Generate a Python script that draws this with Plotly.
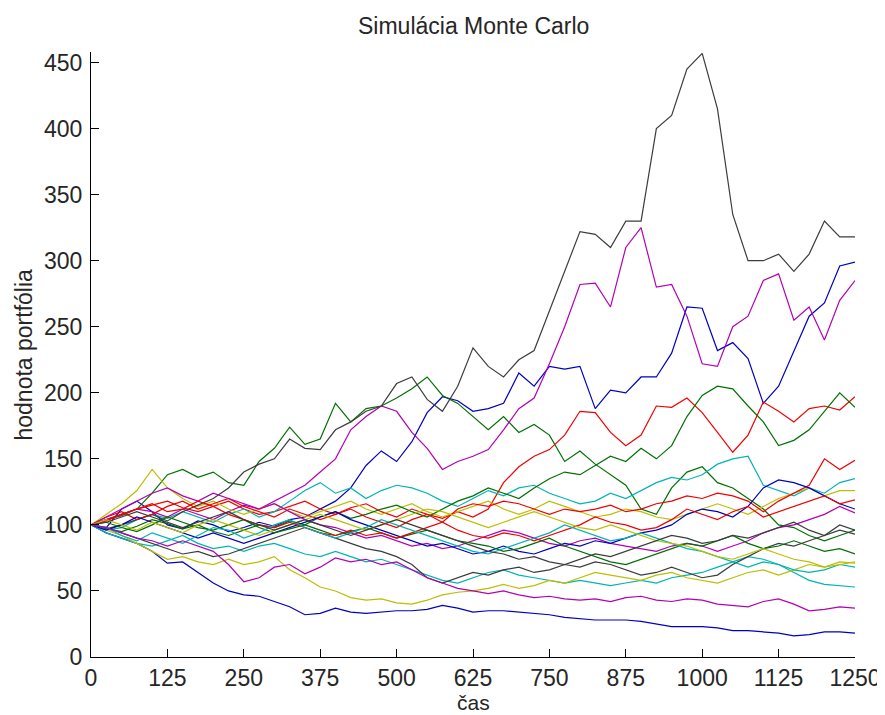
import plotly.graph_objects as go

# time grid (sampled every 25 steps)
t = list(range(0, 1251, 25))

# portfolio paths (MATLAB colour-order cycle)
B1 = [100,98,112,118,110,100,97,103,100,95,98,102,99,104,106,112,118,128,145,156,148,163,185,197,194,186,188,192,215,205,220,218,220,188,202,200,212,212,230,265,264,232,238,226,192,205,232,258,268,296,299]
G1 = [100,104,107,112,124,138,142,136,140,132,130,148,158,174,161,165,192,178,188,190,196,203,212,198,192,182,172,182,170,176,168,148,156,146,138,130,112,108,128,140,144,132,128,120,112,100,98,92,88,92,96]
R1 = [100,103,108,112,115,118,113,110,114,118,112,108,110,114,118,112,108,113,116,110,106,112,108,105,110,106,112,132,144,152,157,168,186,185,170,160,168,190,189,196,185,170,155,168,193,186,178,188,190,187,197]
C1 = [100,96,98,104,108,105,110,106,102,108,112,106,110,118,126,132,124,128,120,126,130,128,124,118,114,120,126,122,128,130,124,120,116,118,124,120,126,132,136,134,138,146,150,152,130,126,122,128,124,132,135]
M1 = [100,104,108,112,110,106,112,108,104,110,115,112,118,124,130,140,150,172,182,190,186,170,158,142,148,152,157,172,188,196,222,250,282,283,265,310,325,280,282,258,222,220,250,258,285,290,255,265,240,270,285]
Y1 = [100,108,116,126,142,128,120,114,118,112,108,112,116,110,106,110,114,118,112,108,112,116,110,106,110,114,118,112,108,112,118,114,110,106,108,112,110,106,104,108,112,116,112,108,114,120,124,128,122,126,126]
K1 = [100,97,100,104,108,103,110,115,120,128,140,146,150,165,158,157,172,178,186,190,207,212,195,186,205,234,220,212,225,232,262,292,322,320,310,330,330,400,410,445,457,415,335,300,300,305,292,305,330,318,318]
B2 = [100,94,90,86,80,71,72,64,56,50,47,46,42,38,32,33,37,34,33,34,35,35,36,39,37,34,35,35,34,33,32,30,29,28,28,28,27,25,23,23,23,22,20,20,19,18,16,17,19,19,18]
G2 = [100,97,95,99,104,101,97,100,95,92,96,100,98,103,100,106,110,105,108,112,115,110,106,112,118,122,128,124,120,128,135,140,138,145,152,148,158,150,160,182,198,205,203,190,178,160,164,172,186,200,189]
R2 = [100,106,110,104,108,114,118,112,116,120,114,110,106,112,108,104,108,112,106,102,98,104,108,102,112,116,114,118,116,112,108,112,110,112,115,110,112,116,118,122,120,124,122,118,110,118,124,130,150,142,149]
C2 = [100,94,90,86,84,88,92,86,82,84,80,84,86,82,78,76,80,76,72,74,70,66,62,58,56,60,64,66,62,60,58,56,58,56,54,56,58,56,60,62,64,68,72,76,74,70,64,58,55,54,53]
M2 = [100,106,112,118,124,128,122,118,124,120,116,112,116,110,104,100,98,94,90,92,88,84,86,82,84,88,92,96,94,90,86,84,88,90,86,84,82,80,84,86,84,80,84,88,94,98,100,104,108,114,109]
Y2 = [100,96,92,86,80,74,76,72,70,74,70,72,76,66,60,53,50,45,43,44,41,40,43,47,49,50,52,55,52,54,58,56,60,64,62,60,58,62,64,60,58,56,60,64,66,62,66,70,68,72,71]
K2 = [100,98,94,90,86,82,78,80,76,78,82,86,90,94,98,94,90,86,82,80,76,70,60,56,60,64,62,66,68,64,66,70,68,72,70,66,62,64,68,64,60,62,70,76,82,86,84,88,92,96,93]
B3 = [100,96,100,106,102,98,94,90,94,90,86,90,94,98,102,106,110,104,100,96,92,88,84,86,82,78,80,84,80,78,82,86,84,88,86,90,94,96,100,108,112,110,106,114,128,134,132,128,122,116,112]
G3 = [100,102,98,95,100,106,102,98,96,100,104,98,94,97,100,96,92,95,98,94,90,93,96,92,88,86,84,80,82,86,90,84,80,76,72,70,74,78,82,86,84,88,92,86,82,84,88,84,80,82,78]
R3 = [100,104,108,112,116,110,112,118,114,108,104,100,98,102,98,94,92,96,92,94,90,94,98,102,96,92,90,94,92,88,92,96,100,106,102,100,96,98,104,112,108,104,110,114,106,110,114,118,122,116,119]
C3 = [100,98,92,88,94,90,86,92,98,96,90,94,100,104,98,94,90,94,98,104,100,96,92,88,84,80,78,82,86,90,94,100,96,92,88,90,94,90,86,82,80,76,72,68,72,70,66,64,66,70,68]
M3 = [100,98,94,90,88,84,88,84,80,70,57,60,68,70,63,68,75,72,74,70,72,66,60,56,52,50,48,50,47,45,46,44,43,44,42,45,46,43,42,44,43,40,39,38,42,44,40,35,36,38,37]
Y3 = [100,104,100,96,102,98,94,100,104,100,96,92,96,100,104,108,104,100,96,100,104,108,112,110,106,102,98,102,106,110,106,102,98,96,100,96,92,88,86,84,80,76,74,78,82,78,74,72,68,70,72]
K3 = [100,102,106,110,106,102,98,102,106,110,104,100,96,100,104,100,96,92,96,100,104,100,96,92,88,84,80,78,74,76,72,70,74,78,76,80,84,88,92,90,86,88,92,90,94,98,102,96,92,100,96]

series = [B1, G1, R1, C1, M1, Y1, K1,
          B2, G2, R2, C2, M2, Y2, K2,
          B3, G3, R3, C3, M3, Y3, K3]

color_order = ["#0000C0", "#007000", "#F00000", "#00B4B4", "#B400B4", "#BEBE00", "#3C3C3C"]

x_ticks = [0, 125, 250, 375, 500, 625, 750, 875, 1000, 1125, 1250]
y_ticks = [0, 50, 100, 150, 200, 250, 300, 350, 400, 450]

title_text = "Simulácia Monte Carlo"
x_label = "čas"
y_label = "hodnota portfólia"

FONT = "Liberation Sans, Arial, Helvetica, sans-serif"
TEXT_COLOR = "#262626"

fig = go.Figure()
for i, s in enumerate(series):
    fig.add_trace(go.Scatter(x=t, y=s, mode="lines",
                             line=dict(color=color_order[i % 7], width=1.2),
                             showlegend=False, hoverinfo="skip"))

axis_common = dict(showgrid=False, zeroline=False, showline=True, linecolor="black",
                   linewidth=1, ticks="inside", ticklen=8, tickwidth=1, tickcolor="black",
                   tickfont=dict(family=FONT, size=23, color=TEXT_COLOR), mirror=False,
                   automargin=False)

# the page body adds an 8 px offset, so the figure is 8 px smaller than the window
fig.update_layout(
    width=877, height=707,
    margin=dict(l=83, r=30, t=44, b=58, autoexpand=False),
    paper_bgcolor="white", plot_bgcolor="white",
    xaxis=dict(range=[0, 1250], tickvals=x_ticks, ticktext=[str(v) for v in x_ticks], **axis_common),
    yaxis=dict(range=[0, 458], tickvals=y_ticks, ticktext=[str(v) for v in y_ticks],
               ticklabelstandoff=3, **axis_common),
    annotations=[
        dict(text=title_text, xref="paper", yref="paper", x=0.5, y=1, yshift=11,
             xanchor="center", yanchor="bottom", showarrow=False,
             font=dict(family=FONT, size=23, color=TEXT_COLOR)),
        dict(text=x_label, xref="paper", yref="paper", x=0.5, y=0, yshift=-58,
             xanchor="center", yanchor="bottom", showarrow=False, borderpad=0,
             font=dict(family=FONT, size=21, color=TEXT_COLOR)),
        dict(text=y_label, xref="paper", yref="paper", x=0, y=0.5, xshift=-54,
             xanchor="right", yanchor="middle", showarrow=False, textangle=-90, borderpad=0,
             font=dict(family=FONT, size=23, color=TEXT_COLOR)),
    ],
)

fig.write_html("out.html")
